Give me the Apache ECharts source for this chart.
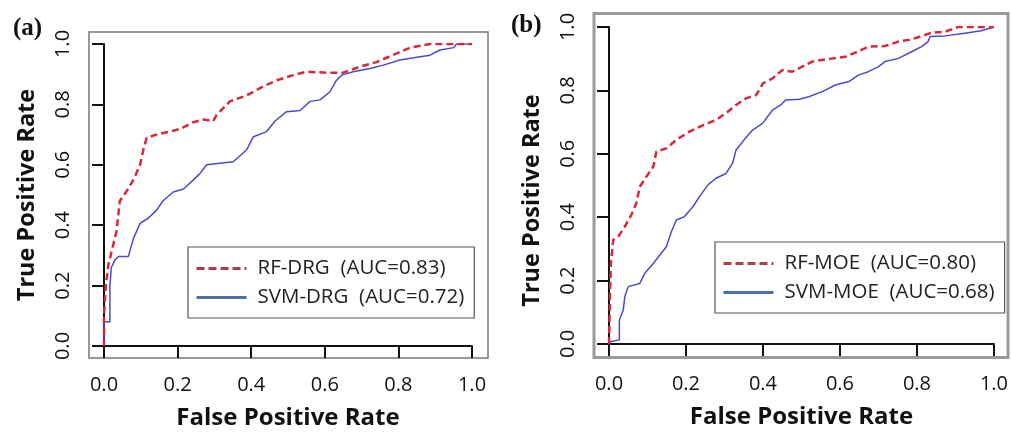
<!DOCTYPE html>
<html>
<head>
<meta charset="utf-8">
<script src="https://cdn.jsdelivr.net/npm/echarts@6/dist/echarts.min.js"></script>
<style>
  html, body { margin: 0; padding: 0; background: #fff; }
  #main { width: 1011px; height: 437px; }
</style>
</head>
<body>
<div id="main"></div>
<script>
// ROC points, as [false positive rate, true positive rate]
var rfDrg = [[0,0],[0,0.1],[0.005,0.2],[0.012,0.27],[0.02,0.31],[0.034,0.38],[0.043,0.48],[0.06,0.51],[0.08,0.55],[0.098,0.6],[0.107,0.65],[0.116,0.69],[0.143,0.70],[0.18,0.71],[0.21,0.72],[0.24,0.74],[0.27,0.75],[0.297,0.745],[0.306,0.765],[0.342,0.81],[0.388,0.83],[0.433,0.86],[0.47,0.88],[0.514,0.897],[0.55,0.908],[0.605,0.905],[0.65,0.905],[0.696,0.925],[0.74,0.94],[0.786,0.964],[0.832,0.988],[0.886,1.0],[1,1]];
var svmDrg = [[0,0],[0,0.08],[0.016,0.08],[0.016,0.2],[0.02,0.26],[0.03,0.285],[0.039,0.296],[0.066,0.296],[0.08,0.356],[0.098,0.406],[0.12,0.423],[0.143,0.45],[0.16,0.48],[0.188,0.51],[0.216,0.52],[0.243,0.55],[0.26,0.57],[0.279,0.6],[0.315,0.605],[0.351,0.61],[0.388,0.65],[0.406,0.693],[0.442,0.71],[0.465,0.745],[0.496,0.776],[0.533,0.78],[0.56,0.81],[0.587,0.815],[0.614,0.842],[0.632,0.88],[0.646,0.897],[0.677,0.908],[0.723,0.919],[0.759,0.93],[0.804,0.947],[0.859,0.958],[0.886,0.963],[0.913,0.98],[0.95,0.988],[0.958,1.0],[1,1]];
var rfMoe = [[0,0],[0.003,0.17],[0.005,0.254],[0.011,0.328],[0.024,0.339],[0.041,0.37],[0.059,0.41],[0.071,0.444],[0.08,0.496],[0.097,0.528],[0.115,0.559],[0.123,0.607],[0.149,0.617],[0.175,0.644],[0.209,0.67],[0.244,0.69],[0.278,0.707],[0.304,0.728],[0.33,0.754],[0.356,0.775],[0.382,0.785],[0.4,0.822],[0.425,0.838],[0.45,0.864],[0.476,0.859],[0.502,0.875],[0.528,0.891],[0.562,0.898],[0.614,0.906],[0.64,0.919],[0.674,0.938],[0.717,0.94],[0.752,0.954],[0.786,0.961],[0.821,0.975],[0.838,0.982],[0.873,0.985],[0.907,1.0],[1,1.0]];
var svmMoe = [[0,0],[0.003,0.007],[0.027,0.013],[0.027,0.076],[0.037,0.107],[0.041,0.149],[0.05,0.181],[0.08,0.191],[0.093,0.223],[0.115,0.254],[0.132,0.281],[0.149,0.307],[0.162,0.354],[0.175,0.391],[0.196,0.402],[0.218,0.433],[0.235,0.465],[0.257,0.502],[0.278,0.523],[0.304,0.538],[0.321,0.57],[0.33,0.612],[0.351,0.644],[0.373,0.675],[0.399,0.696],[0.425,0.738],[0.446,0.754],[0.459,0.77],[0.494,0.772],[0.519,0.78],[0.554,0.796],[0.588,0.817],[0.623,0.828],[0.649,0.849],[0.674,0.859],[0.7,0.875],[0.717,0.891],[0.752,0.901],[0.786,0.922],[0.812,0.938],[0.829,0.954],[0.834,0.97],[0.873,0.972],[0.924,0.98],[0.967,0.988],[1,1.0]];

var namesA = ['RF-DRG  (AUC=0.83)', 'SVM-DRG  (AUC=0.72)'];
var namesB = ['RF-MOE  (AUC=0.80)', 'SVM-MOE  (AUC=0.68)'];
var panelTags = ['(a)', '(b)'];

var red = '#d62a3c';
var blue = '#4b4bc8';
var font = 'Open Sans';
// a bare horizontal stroke for the legend keys (50 x 20 box)
var keyPath = 'path://M0,0M0,10H50M50,20';

function xAx(gi, off) {
    return {
        gridIndex: gi, type: 'value', min: 0, max: 1, interval: 0.2, offset: off,
        name: 'False Positive Rate', nameLocation: 'middle', nameGap: 48,
        nameTextStyle: { fontFamily: font, fontWeight: 'bold', fontSize: 24, color: '#111' },
        axisLine: { lineStyle: { color: '#111', width: 2 } },
        axisTick: { length: 12, lineStyle: { color: '#111', width: 2 } },
        axisLabel: { margin: 17, fontFamily: font, fontSize: 20, color: '#111',
            formatter: function (v) { return v.toFixed(1); } },
        splitLine: { show: false }
    };
}
function yAx(gi, off, shift) {
    return {
        gridIndex: gi, type: 'value', min: 0, max: 1, interval: 0.2, offset: off,
        name: 'True Positive Rate', nameLocation: 'middle', nameGap: 50,
        nameTextStyle: { fontFamily: font, fontWeight: 'bold', fontSize: 23.5, color: '#111',
            padding: [0, shift, 0, 0] },
        axisLine: { lineStyle: { color: '#111', width: 2 } },
        axisTick: { length: 12, lineStyle: { color: '#111', width: 2 } },
        axisLabel: { margin: 16, rotate: 90, fontFamily: font, fontSize: 20, color: '#111',
            formatter: function (v) { return v.toFixed(1); } },
        splitLine: { show: false }
    };
}
function legendFor(names, left, top) {
    return {
        orient: 'vertical', left: left, top: top,
        padding: [10, 10, 9, 7], itemGap: 6, itemWidth: 50, itemHeight: 20,
        borderColor: '#555', borderWidth: 1.2,
        textStyle: { fontFamily: font, fontSize: 20.5, color: '#222', lineHeight: 20, padding: [0, 0, 0, 6] },
        data: [
            { name: names[0], icon: keyPath,
              itemStyle: { color: 'transparent', borderColor: '#a8404c', borderWidth: 3, borderType: [8, 4] } },
            { name: names[1], icon: keyPath,
              itemStyle: { color: 'transparent', borderColor: '#4a70a8', borderWidth: 3, borderType: 'solid' } }
        ]
    };
}
function line(name, data, gi, color, dashed) {
    return {
        name: name, type: 'line', xAxisIndex: gi, yAxisIndex: gi, data: data,
        symbol: 'none', animation: false, z: dashed ? 3 : 2,
        lineStyle: { color: color, width: dashed ? 2.5 : 1.5, type: dashed ? [7, 4] : 'solid' },
        itemStyle: { color: color }
    };
}

var option = {
    backgroundColor: '#fff',
    animation: false,
    grid: [
        { left: 104, width: 368, top: 44, height: 302 },
        { left: 609, width: 387, top: 27, height: 317 }
    ],
    xAxis: [xAx(0, 12), xAx(1, 13)],
    yAxis: [yAx(0, 15, 0), yAx(1, 15, 30)],
    legend: [legendFor(namesA, 188, 247), legendFor(namesB, 715, 242)],
    series: [
        line(namesA[1], svmDrg, 0, blue, false),
        line(namesA[0], rfDrg, 0, red, true),
        line(namesB[1], svmMoe, 1, blue, false),
        line(namesB[0], rfMoe, 1, red, true)
    ],
    graphic: [
        // plot frames (R draws its box 4% outside the data range)
        { type: 'rect', shape: { x: 89, y: 32, width: 399, height: 326 }, z: 0,
          style: { fill: null, stroke: '#777', lineWidth: 1.5 } },
        { type: 'rect', shape: { x: 594, y: 13.5, width: 414, height: 344 }, z: 0,
          style: { fill: null, stroke: '#999', lineWidth: 3 } },
        { type: 'text', left: 13, top: 16, z: 10,
          style: { text: panelTags[0], font: 'bold 25px "Liberation Serif"', fill: '#111' } },
        { type: 'text', left: 511, top: 13, z: 10,
          style: { text: panelTags[1], font: 'bold 25px "Liberation Serif"', fill: '#111' } }
    ]
};

var chart = echarts.init(document.getElementById('main'));
chart.setOption(option);
</script>
</body>
</html>
